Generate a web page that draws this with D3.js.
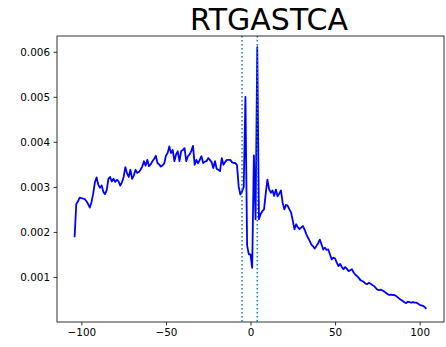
<!DOCTYPE html>
<html>
<head>
<meta charset="utf-8">
<script src="https://cdn.jsdelivr.net/npm/d3@7"></script>
<style>
  html, body { margin: 0; padding: 0; background: #fff; }
  svg { display: block; }
  text { font-family: "DejaVu Sans", sans-serif; }
</style>
</head>
<body>
<svg id="chart" width="446" height="347"></svg>
<script>
// Motif name shown as the title
const title = "RTGASTCA";

// Positions relative to the motif centre
const positions = d3.range(-104, 105);

// Frequency at each position (-104 … 104)
const values = [
  0.00188, 0.00262, 0.00268, 0.00276, 0.00275, 0.00274, 0.00273, 0.00268, 0.00262, 0.00254, // -104..-95
  0.00266, 0.00285, 0.00310, 0.00321, 0.00305, 0.00298, 0.00303, 0.00289, 0.00284, 0.00293, // -94..-85
  0.00318, 0.00322, 0.00312, 0.00318, 0.00311, 0.00316, 0.00312, 0.00303, 0.00310, 0.00322, // -84..-75
  0.00344, 0.00330, 0.00322, 0.00338, 0.00318, 0.00325, 0.00338, 0.00331, 0.00333, 0.00338, // -74..-65
  0.00345, 0.00357, 0.00347, 0.00360, 0.00346, 0.00350, 0.00357, 0.00362, 0.00369, 0.00353, // -64..-55
  0.00350, 0.00345, 0.00348, 0.00352, 0.00369, 0.00375, 0.00390, 0.00375, 0.00382, 0.00357, // -54..-45
  0.00372, 0.00379, 0.00357, 0.00379, 0.00382, 0.00386, 0.00357, 0.00368, 0.00372, 0.00380, // -44..-35
  0.00391, 0.00349, 0.00360, 0.00352, 0.00360, 0.00368, 0.00353, 0.00356, 0.00357, 0.00364, // -34..-25
  0.00360, 0.00355, 0.00342, 0.00357, 0.00340, 0.00338, 0.00335, 0.00364, 0.00349, 0.00355, // -24..-15
  0.00360, 0.00360, 0.00360, 0.00355, 0.00353, 0.00353, 0.00349, 0.00301, 0.00283, 0.00290, // -14..-5
  0.00300, 0.00500, 0.00170, 0.00150, 0.00150, 0.00120, 0.00370, 0.00228, 0.00610, 0.00228, // -4..5
  0.00240, 0.00246, 0.00250, 0.00285, 0.00316, 0.00295, 0.00287, 0.00292, 0.00280, 0.00294, // 6..15
  0.00279, 0.00285, 0.00292, 0.00265, 0.00250, 0.00260, 0.00258, 0.00250, 0.00243, 0.00225, // 16..25
  0.00206, 0.00217, 0.00210, 0.00206, 0.00210, 0.00213, 0.00205, 0.00195, 0.00187, 0.00180, // 26..35
  0.00172, 0.00168, 0.00163, 0.00169, 0.00175, 0.00183, 0.00172, 0.00161, 0.00165, 0.00160, // 36..45
  0.00161, 0.00150, 0.00139, 0.00143, 0.00141, 0.00132, 0.00124, 0.00129, 0.00122, 0.00117, // 46..55
  0.00122, 0.00118, 0.00113, 0.00115, 0.00117, 0.00110, 0.00105, 0.00102, 0.00098, 0.00093, // 56..65
  0.00091, 0.00089, 0.00085, 0.00084, 0.00087, 0.00085, 0.00082, 0.00080, 0.00076, 0.00072, // 66..75
  0.00071, 0.00072, 0.00070, 0.00068, 0.00065, 0.00062, 0.00060, 0.00061, 0.00060, 0.00060, // 76..85
  0.00058, 0.00055, 0.00052, 0.00049, 0.00047, 0.00044, 0.00042, 0.00045, 0.00044, 0.00043, // 86..95
  0.00044, 0.00043, 0.00043, 0.00041, 0.00038, 0.00037, 0.00036, 0.00033, 0.00029           // 96..104
];

// Motif boundaries
const markers = [-5, 4];

// Tick labels
const xTicks = [-100, -50, 0, 50, 100];
const yTicks = [0.001, 0.002, 0.003, 0.004, 0.005, 0.006];

const svg = d3.select("#chart");
const plot = { left: 57, right: 444, top: 36, bottom: 322 };

const x = d3.scaleLinear().domain([-114.4, 114.4]).range([plot.left, plot.right]);
const y = d3.scaleLinear().domain([0, 0.00635]).range([plot.bottom, plot.top]);

svg.append("defs").append("clipPath").attr("id", "clip")
  .append("rect")
  .attr("x", plot.left).attr("y", plot.top)
  .attr("width", plot.right - plot.left).attr("height", plot.bottom - plot.top);

const data = positions.map((p, i) => ({ p, v: values[i] }));

const line = d3.line().x(d => x(d.p)).y(d => y(d.v));

svg.append("path")
  .datum(data)
  .attr("clip-path", "url(#clip)")
  .attr("fill", "none")
  .attr("stroke", "#0000ff")
  .attr("stroke-width", 1.8)
  .attr("stroke-linejoin", "round")
  .attr("d", line);

svg.selectAll(".marker")
  .data(markers)
  .join("line")
  .attr("class", "marker")
  .attr("x1", d => x(d)).attr("x2", d => x(d))
  .attr("y1", plot.top).attr("y2", plot.bottom)
  .attr("stroke", "#1f77b4")
  .attr("stroke-width", 1.5)
  .attr("stroke-dasharray", "1.5,2.5");

// Axes
const xAxis = d3.axisBottom(x)
  .tickValues(xTicks)
  .tickSize(3.5)
  .tickPadding(3.5)
  .tickFormat(d => d < 0 ? "\u2212" + Math.abs(d) : String(d));

const yAxis = d3.axisLeft(y)
  .tickValues(yTicks)
  .tickSize(3.5)
  .tickPadding(3.5)
  .tickFormat(d3.format(".3f"));

const gx = svg.append("g").attr("transform", `translate(0,${plot.bottom})`).call(xAxis);
const gy = svg.append("g").attr("transform", `translate(${plot.left},0)`).call(yAxis);

[gx, gy].forEach(g => {
  g.select(".domain").remove();
  g.selectAll(".tick line").attr("stroke", "#000").attr("stroke-width", 0.8);
  g.selectAll(".tick text")
    .attr("fill", "#000")
    .style("font-family", "'DejaVu Sans', sans-serif")
    .style("font-size", "10.4px");
});

// Frame
svg.append("rect")
  .attr("x", plot.left).attr("y", plot.top)
  .attr("width", plot.right - plot.left).attr("height", plot.bottom - plot.top)
  .attr("fill", "none")
  .attr("stroke", "#000")
  .attr("stroke-width", 0.8);

// Title
svg.append("text")
  .attr("x", 269)
  .attr("y", 30)
  .attr("text-anchor", "middle")
  .style("font-size", "30px")
  .attr("fill", "#000")
  .text(title);
</script>
</body>
</html>
